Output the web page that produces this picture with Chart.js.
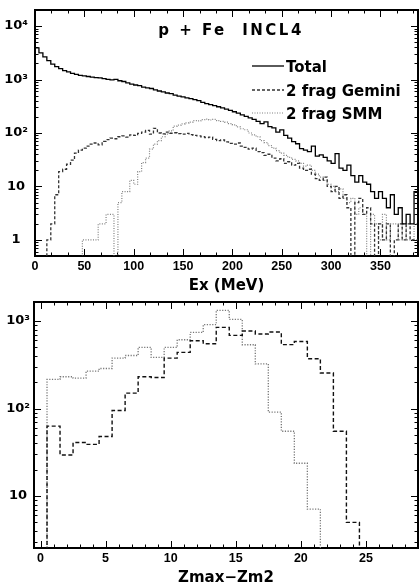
<!DOCTYPE html>
<html><head><meta charset="utf-8">
<script src="https://cdn.jsdelivr.net/npm/chart.js@4.4.0/dist/chart.umd.min.js"></script>
<style>
html,body{margin:0;padding:0;background:#fff;overflow:hidden;width:420px;height:584px}
canvas{position:absolute;left:0}
#c1{top:0}
#c2{top:290px}
</style></head><body>
<canvas id="c1" width="420" height="300"></canvas>
<canvas id="c2" width="420" height="300"></canvas>
<script>
// ---------------- data: top panel (Ex spectra, 4 MeV bins from 0) ----------------
const exBinWidth = 4;
const exStart = 0;
const exTotal = [3900,3150,2650,2250,1950,1750,1600,1470,1390,1310,
 1250,1200,1170,1140,1110,1090,1070,1040,1010,990,
 1010,950,920,870,820,790,770,720,700,680,
 640,610,590,560,545,510,490,475,455,440,
 420,405,375,355,340,325,310,295,280,265,
 250,236,218,205,192,180,165,150,162,132,
 125,104,114,90,80,69,63,51,48,45,
 57,37,39,35,30,27,41,22,20,25,
 16,12,16,12,11,8,6,8,6,4,
 7,3,4,2,3,2,8];
const exGemini = [0,0,0,1,2,7,19,21,26,31,
 42,48,52,57,62,65,60,70,75,80,
 78,85,88,84,92,90,98,104,112,95,
 122,100,96,104,99,101,97,95,98,93,
 90,88,85,82,84,76,72,74,68,64,
 62,65,57,54,50,52,45,43,38,40,
 34,30,33,27,29,25,27,22,20,21,
 17,14,13,15,10,8,10,6,7,4,
 0,5,6,3,4,2,0,2,1,2,
 0,1,2,1,2,1,1];
const exSMM = [0,0,0,0,0,0,0,0,0,0,
 0,0,1,1,1,1,2,2,3,3,
 0,5,8,8,13,11,19,28,34,50,
 62,72,85,95,110,135,140,148,155,160,
 170,168,178,182,175,180,170,165,160,150,
 142,130,120,115,100,92,85,72,66,58,
 52,47,42,38,35,32,30,27,24,25,
 20,17,15,13,11,10,8,9,6,5,
 6,3,4,3,0,3,2,1,3,1,
 2,2,1,2,1,1,2];
const seriesNames = ['Total', '2 frag Gemini', '2 frag SMM'];
const topTitle = 'p + Fe  INCL4';
const topXTitle = 'Ex (MeV)';
const topXTicks = [0,50,100,150,200,250,300,350];
const topXMinorStep = 50 / 3;
const topYTicks = [1,10,100,1000,10000];
const topYLabels = ['1','10','10\u00B2','10\u00B3','10\u2074'];

// ---------------- data: bottom panel (Zmax-Zm2, unit bins centred on integers) ----------------
const dzCenters = [0,1,2,3,4,5,6,7,8,9,10,11,12,13,14,15,16,17,18,19,20,21,22,23,24,25,26,27,28];
const dzGemini = [0,63,29.5,41,39,48,95,150,231,226,377,438,595,550,846,685,769,710,748,538,583,371,255,55,5,0,0,0,0];
const dzSMM = [0,215,231,223,267,287,377,404,499,384,499,611,741,908,1324,1045,536,324,91,55,23.7,7.1,0,0,0,0,0,0,0];
const botXTitle = 'Zmax\u2212Zm2';
const botXTicks = [0,5,10,15,20,25];
const botXMinorStep = 1;
const botYTicks = [10,100,1000];
const botYLabels = ['10','10\u00B2','10\u00B3'];

// ---------------- helpers ----------------
// empty bins are sent below the log axis floor so the step drops out of the frame
function histPoints(values, firstEdge, width, floor) {
  const y = v => (v > 0 ? v : floor);
  const pts = values.map((v, i) => ({x: firstEdge + i * width, y: y(v)}));
  pts.push({x: firstEdge + values.length * width, y: y(values[values.length - 1])});
  return pts;
}
function logMinors(min, max) {
  const out = [];
  for (let e = Math.floor(Math.log10(min)); e <= Math.ceil(Math.log10(max)); e++) {
    for (let d = 2; d <= 9; d++) { const v = d * Math.pow(10, e); if (v >= min && v <= max) out.push(v); }
  }
  return out;
}
function linMinors(min, max, step) {
  const out = [];
  const k0 = Math.ceil(min / step - 1e-9);
  for (let k = k0; k * step <= max + 1e-9; k++) out.push(+(k * step).toFixed(6));
  return out;
}
function frameAxis(type, position, min, max, tickVals, weight, size) {
  return {
    type, position, min, max, bounds: 'data', weight, display: true,
    afterBuildTicks: s => { s.ticks = tickVals.map(v => ({value: v})); },
    afterFit: s => {
      if (s.isHorizontal()) s.height = size; else s.width = size;
      s.paddingTop = 0; s.paddingBottom = 0; s.paddingLeft = 0; s.paddingRight = 0;
    },
    grid: {display: true, drawOnChartArea: false, drawTicks: false},
    border: {display: true, color: '#000', width: 2},
    ticks: {display: false, autoSkip: false}
  };
}
function buildScales(o) {
  const x = frameAxis('linear', 'bottom', o.xMin, o.xMax, o.xTicks, 1, o.bottomH);
  x.ticks = {display: true, autoSkip: false, maxRotation: 0, padding: o.xPad, color: '#000',
    font: {family: 'Liberation Sans', weight: 'bold', size: 12.5}};
  x.title = {display: true, text: o.xTitle, color: '#000', align: 'center',
    font: {family: 'DejaVu Sans', weight: 'bold', size: 15, lineHeight: 1.2}, padding: {top: 0, bottom: o.titlePad}};
  const y = frameAxis('logarithmic', 'left', o.yMin, o.yMax, o.yTicks, 1, o.leftW);
  y.ticks = {display: true, autoSkip: false, crossAlign: 'center', padding: o.yPad, color: '#000',
    font: {family: 'DejaVu Sans', weight: 'bold', size: 13},
    callback: v => { const k = o.yTicks.indexOf(v); return k >= 0 ? o.yLabels[k] : ''; }};
  return {
    x, y,
    xt: frameAxis('linear', 'top', o.xMin, o.xMax, o.xTicks, 1, 0),
    yr: frameAxis('logarithmic', 'right', o.yMin, o.yMax, o.yTicks, 1, 0)
  };
}
function ds(label, pts, color, width, dash) {
  return {label, data: pts, borderColor: color, borderWidth: width, borderDash: dash,
    stepped: 'before', pointRadius: 0, fill: false, tension: 0, spanGaps: true,
    xAxisID: 'x', yAxisID: 'y', clip: 0};
}

// inward tick marks on all four sides, placed with the chart's own x / y scales
const MAJ = 7, MIN = 3.5;
function frameTicks(cfg) {
  return {
    id: 'frameTicks',
    beforeDatasetsDraw(chart) {
      const {ctx, chartArea: a} = chart;
      const sx = chart.scales.x, sy = chart.scales.y;
      ctx.save();
      ctx.strokeStyle = '#000';
      ctx.lineWidth = 1;
      ctx.beginPath();
      const vert = (vals, len) => vals.forEach(v => {
        const p = Math.round(sx.getPixelForValue(v)) + 0.5;
        ctx.moveTo(p, a.bottom); ctx.lineTo(p, a.bottom - len);
        ctx.moveTo(p, a.top); ctx.lineTo(p, a.top + len);
      });
      const horz = (vals, len) => vals.forEach(v => {
        const p = Math.round(sy.getPixelForValue(v)) + 0.5;
        ctx.moveTo(a.left, p); ctx.lineTo(a.left + len, p);
        ctx.moveTo(a.right, p); ctx.lineTo(a.right - len, p);
      });
      vert(linMinors(cfg.xMin, cfg.xMax, cfg.xStep), MIN);
      vert(cfg.xTicks, MAJ);
      horz(logMinors(cfg.yMin, cfg.yMax), MIN);
      horz(cfg.yTicks, MAJ);
      ctx.stroke();
      ctx.restore();
    }
  };
}

// title + legend drawn inside the frame of the top panel
const topAnnot = {
  id: 'topAnnot',
  afterDatasetsDraw(chart) {
    const ctx = chart.ctx;
    ctx.save();
    ctx.fillStyle = '#000';
    ctx.textBaseline = 'alphabetic';
    ctx.font = 'bold 15px "DejaVu Sans"';
    try { ctx.letterSpacing = '2.5px'; } catch (e) {}
    ctx.textAlign = 'center';
    ctx.fillText(topTitle, 231, 35);
    try { ctx.letterSpacing = '0px'; } catch (e) {}
    ctx.textAlign = 'left';
    const rows = [66, 90, 113];
    chart.data.datasets.forEach((d, i) => {
      ctx.beginPath();
      ctx.strokeStyle = d.borderColor;
      ctx.lineWidth = d.borderWidth;
      ctx.setLineDash(d.borderDash || []);
      ctx.moveTo(252, rows[i]); ctx.lineTo(284, rows[i]);
      ctx.stroke();
      ctx.setLineDash([]);
      ctx.fillText(d.label, 286, rows[i] + 5.5);
    });
    ctx.restore();
  }
};

Chart.defaults.animation = false;

const topCfg = {xMin: 0, xMax: 388, xTicks: topXTicks, xStep: topXMinorStep,
  yMin: 0.5, yMax: 20000, yTicks: topYTicks, yLabels: topYLabels,
  leftW: 35, bottomH: 44, xPad: 3, yPad: 7, xTitle: topXTitle, titlePad: 5};
const botCfg = {xMin: -0.5, xMax: 29, xTicks: botXTicks, xStep: botXMinorStep,
  yMin: 2.55, yMax: 1650, yTicks: botYTicks, yLabels: botYLabels,
  leftW: 34, bottomH: 42, xPad: 3, yPad: 4, xTitle: botXTitle, titlePad: 3};
const topFloor = 0.05, botFloor = 0.5;

new Chart(document.getElementById('c1'), {
  type: 'line',
  data: {datasets: [
    ds(seriesNames[0], histPoints(exTotal, exStart, exBinWidth, topFloor), '#000', 1.3, []),
    ds(seriesNames[1], histPoints(exGemini, exStart, exBinWidth, topFloor), '#333', 1.3, [3, 2]),
    ds(seriesNames[2], histPoints(exSMM, exStart, exBinWidth, topFloor), '#808080', 1.2, [1, 1.5])
  ]},
  options: {
    responsive: false, devicePixelRatio: 1, events: [],
    layout: {padding: {top: 10, right: 2, left: 0, bottom: 0}},
    plugins: {legend: {display: false}, tooltip: {enabled: false}},
    scales: buildScales(topCfg)
  },
  plugins: [frameTicks(topCfg), topAnnot]
});

new Chart(document.getElementById('c2'), {
  type: 'line',
  data: {datasets: [
    ds('2 frag Gemini', histPoints(dzGemini, dzCenters[0] - 0.5, 1, botFloor), '#111', 1.4, [4, 2.5]),
    ds('2 frag SMM', histPoints(dzSMM, dzCenters[0] - 0.5, 1, botFloor), '#777', 1.3, [1.2, 1.5])
  ]},
  options: {
    responsive: false, devicePixelRatio: 1, events: [],
    layout: {padding: {top: 12, right: 2, left: 0, bottom: 0}},
    plugins: {legend: {display: false}, tooltip: {enabled: false}},
    scales: buildScales(botCfg)
  },
  plugins: [frameTicks(botCfg)]
});
</script>
</body></html>
